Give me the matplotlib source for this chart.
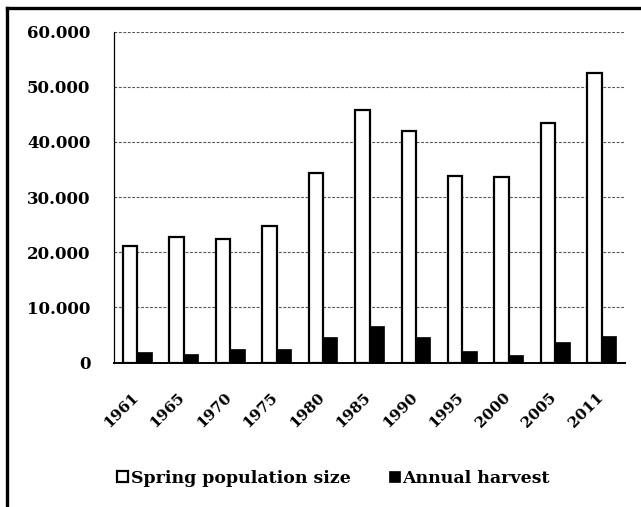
import matplotlib.pyplot as plt
from matplotlib.lines import Line2D
from matplotlib.ticker import FuncFormatter
import matplotlib.transforms as mtransforms
import numpy as np

years = ['1961', '1965', '1970', '1975', '1980', '1985', '1990', '1995', '2000', '2005', '2011']
spring_pop = [21200, 22700, 22400, 24800, 34300, 45800, 41900, 33900, 33600, 43400, 52500]
harvest = [1850, 1500, 2400, 2400, 4600, 6700, 4600, 2000, 1400, 3700, 4800]

font = 'DejaVu Serif'

fig = plt.figure(figsize=(6.41, 5.07), dpi=100)
fig.patch.set_facecolor('white')
ax = fig.add_axes([0.178, 0.285, 0.797, 0.6525])

x = np.arange(len(years))
w = 0.31
ax.bar(x - w / 2, spring_pop, w, color='white', edgecolor='black', linewidth=1.6,
       label='Spring population size', zorder=3)
ax.bar(x + w / 2, harvest, w, color='black', edgecolor='black', linewidth=0.5,
       label='Annual harvest', zorder=3)

ax.set_xlim(-0.5, len(years) - 0.5)
ax.set_ylim(0, 60000)
ax.set_yticks(np.arange(0, 60001, 10000))
ax.yaxis.set_major_formatter(FuncFormatter(lambda v, _: f'{int(v):,}'.replace(',', '.')))
ax.grid(True, axis='y', color='#555555', linestyle=(0, (2.5, 1.5)), linewidth=0.8, zorder=1)

for s in ['top', 'right']:
    ax.spines[s].set_visible(False)
ax.spines['left'].set_linewidth(0.9)
ax.spines['bottom'].set_linewidth(1.4)

ax.tick_params(axis='y', length=0, pad=17)
ax.tick_params(axis='x', length=0, pad=20)
for lab in ax.get_yticklabels():
    lab.set_fontfamily(font)
    lab.set_fontweight('bold')
    lab.set_fontsize(12)

ax.set_xticks(x)
ax.set_xticklabels(years, rotation=45, ha='right', va='top',
                   fontfamily=font, fontweight='bold', fontsize=11)
offset = mtransforms.ScaledTranslation(4 / 100, 0, fig.dpi_scale_trans)
for lab in ax.get_xticklabels():
    lab.set_transform(lab.get_transform() + offset)

fig.legend(loc='center', bbox_to_anchor=(0.52, 0.057), ncol=2, frameon=False,
           prop={'family': font, 'weight': 'bold', 'size': 12.5},
           handlelength=0.65, handleheight=0.65, handletextpad=0.15, columnspacing=2.2)

# frame lines along the top and left edge
fig.add_artist(Line2D([0.011, 1.0], [0.985, 0.985], transform=fig.transFigure,
                      color='black', linewidth=2.4))
fig.add_artist(Line2D([0.011, 0.011], [0.0, 0.985], transform=fig.transFigure,
                      color='black', linewidth=2.4))

fig.savefig('out.png', dpi=100, facecolor='white')
